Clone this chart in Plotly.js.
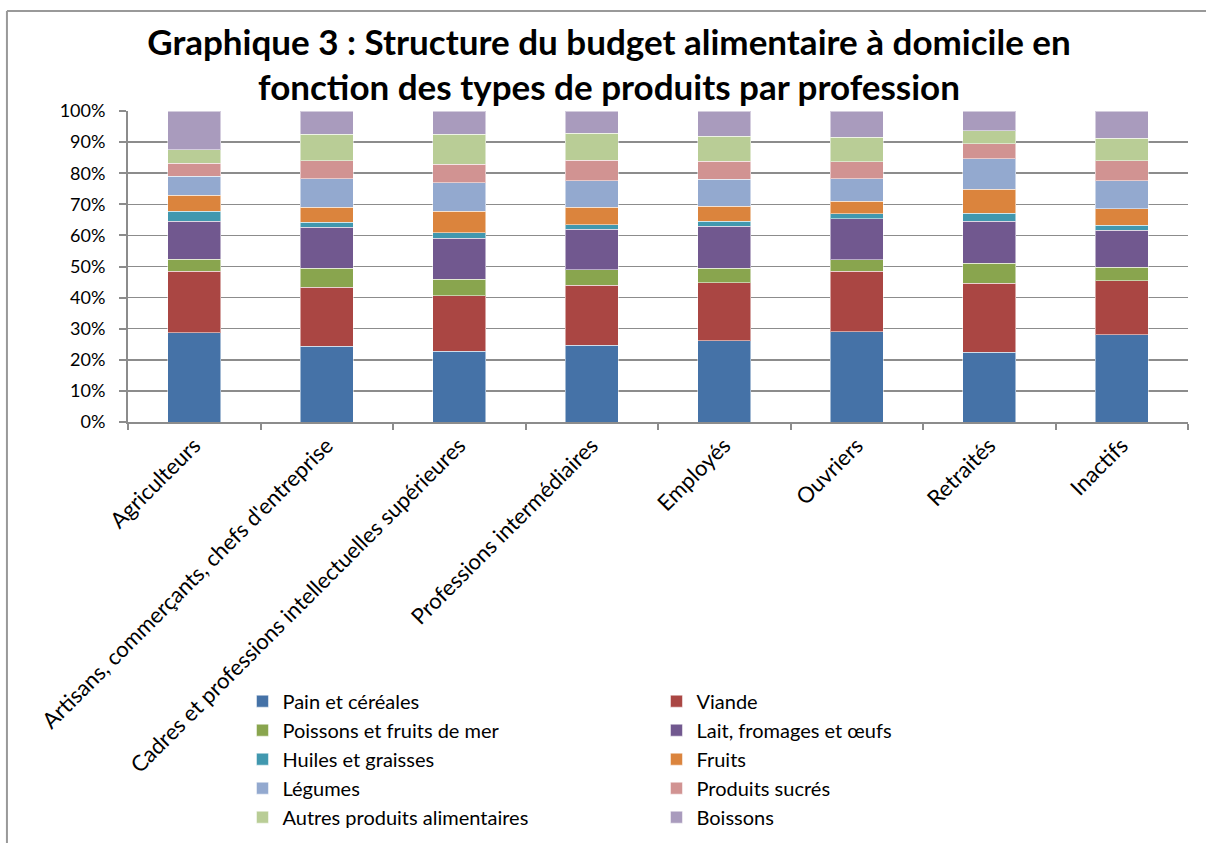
<!DOCTYPE html>
<html>
<head>
<meta charset="utf-8">
<script src="https://cdn.plot.ly/plotly-3.0.1.min.js"></script>
<style>html,body{margin:0;padding:0;background:#fff;}#chart{width:1206px;height:843px;}</style>
</head>
<body>
<div id="chart"></div>
<script>
const categories = ["Agriculteurs", "Artisans, commerçants, chefs d'entreprise", "Cadres et professions intellectuelles supérieures", "Professions intermédiaires", "Employés", "Ouvriers", "Retraités", "Inactifs"];
const seriesNames = ["Pain et céréales", "Viande", "Poissons et fruits de mer", "Lait, fromages et œufs", "Huiles et graisses", "Fruits", "Légumes", "Produits sucrés", "Autres produits alimentaires", "Boissons"];
const painCereales = [28.7, 24.4, 22.8, 24.7, 26.1, 29.1, 22.5, 28.0];
const viande = [19.7, 18.9, 17.8, 19.2, 18.7, 19.3, 22.1, 17.5];
const poissons = [3.9, 6.1, 5.3, 5.0, 4.7, 3.8, 6.5, 4.2];
const laitFromages = [12.2, 13.2, 13.2, 13.1, 13.4, 13.1, 13.4, 12.0];
const huiles = [3.2, 1.6, 1.7, 1.5, 1.6, 1.7, 2.6, 1.5];
const fruits = [5.2, 4.9, 7.0, 5.6, 4.9, 4.0, 7.8, 5.4];
const legumes = [6.1, 9.1, 9.2, 8.4, 8.6, 7.2, 9.7, 9.0];
const produitsSucres = [4.2, 5.8, 5.9, 6.6, 5.9, 5.5, 4.8, 6.4];
const autres = [4.4, 8.6, 9.7, 8.7, 8.0, 7.8, 4.3, 7.3];
const boissons = [12.4, 7.4, 7.4, 7.2, 8.1, 8.5, 6.3, 8.7];
const yTickVals = [0, 10, 20, 30, 40, 50, 60, 70, 80, 90, 100];
const yTickText = ["0%", "10%", "20%", "30%", "40%", "50%", "60%", "70%", "80%", "90%", "100%"];

const seriesValues = [painCereales, viande, poissons, laitFromages, huiles, fruits, legumes, produitsSucres, autres, boissons];
const colors = ["#4572A7", "#AA4643", "#89A54E", "#71588F", "#4198AF", "#DB843D", "#93A9CF", "#D19392", "#B9CD96", "#A99BBD"];

const traces = seriesNames.map((name, i) => ({
  type: 'bar',
  name: name,
  x: categories,
  y: seriesValues[i],
  marker: {color: colors[i], line: {color: 'rgba(255,255,255,0.5)', width: 1}},
  hoverinfo: 'x+y+name'
}));

const fontFam = 'Lato, "Open Sans", sans-serif';
const layout = {
  width: 1206,
  height: 843,
  barmode: 'stack',
  barnorm: 'percent',
  bargap: 0.6,
  paper_bgcolor: '#ffffff',
  plot_bgcolor: '#ffffff',
  margin: {l: 128, r: 18, t: 111, b: 421, pad: 0, autoexpand: false},
  font: {family: fontFam, color: '#000000'},
  title: {
    text: 'Graphique 3 : Structure du budget alimentaire à domicile en<br>fonction des types de produits par profession',
    font: {family: fontFam, size: 35, color: '#000000', weight: 'bold'},
    x: 0.505, xanchor: 'center', xref: 'container',
    y: 0.9348, yanchor: 'middle', yref: 'container',
    automargin: false
  },
  xaxis: {
    type: 'category',
    automargin: false,
    tickangle: -45,
    tickfont: {family: fontFam, size: 22, color: '#000000'},
    showgrid: false,
    showline: true,
    linecolor: '#8c8c8c',
    linewidth: 2,
    ticks: 'outside',
    tickson: 'boundaries',
    ticklen: 6,
    tickcolor: '#8c8c8c',
    tickwidth: 2,
    zeroline: false
  },
  yaxis: {
    range: [0, 100],
    automargin: false,
    tickvals: yTickVals,
    ticktext: yTickText,
    tickfont: {family: fontFam, size: 18, color: '#000000'},
    ticklabelstandoff: 10,
    showgrid: true,
    gridcolor: '#8c8c8c',
    gridwidth: 1.5,
    showline: true,
    linecolor: '#8c8c8c',
    linewidth: 2,
    ticks: 'outside',
    ticklen: 7,
    tickcolor: '#8c8c8c',
    tickwidth: 2,
    zeroline: false,
    fixedrange: true
  },
  legend: {
    orientation: 'h',
    x: 0.108,
    xanchor: 'left',
    y: -0.835,
    yanchor: 'top',
    entrywidth: 369,
    traceorder: 'normal',
    font: {family: fontFam, size: 20, color: '#000000'},
    bgcolor: 'rgba(0,0,0,0)',
    itemclick: false,
    tracegroupgap: 0
  },
  shapes: [
    {type: 'line', xref: 'paper', yref: 'paper', x0: -0.1142, x1: -0.1142, y0: 1.3215, y1: -1.5, line: {color: '#999999', width: 2}},
    {type: 'line', xref: 'paper', yref: 'paper', x0: -0.1142, x1: 1.1, y0: 1.3215, y1: 1.3215, line: {color: '#999999', width: 2}}
  ],
  showlegend: true
};

Plotly.newPlot('chart', traces, layout, {displayModeBar: false, staticPlot: true});
</script>
</body>
</html>
